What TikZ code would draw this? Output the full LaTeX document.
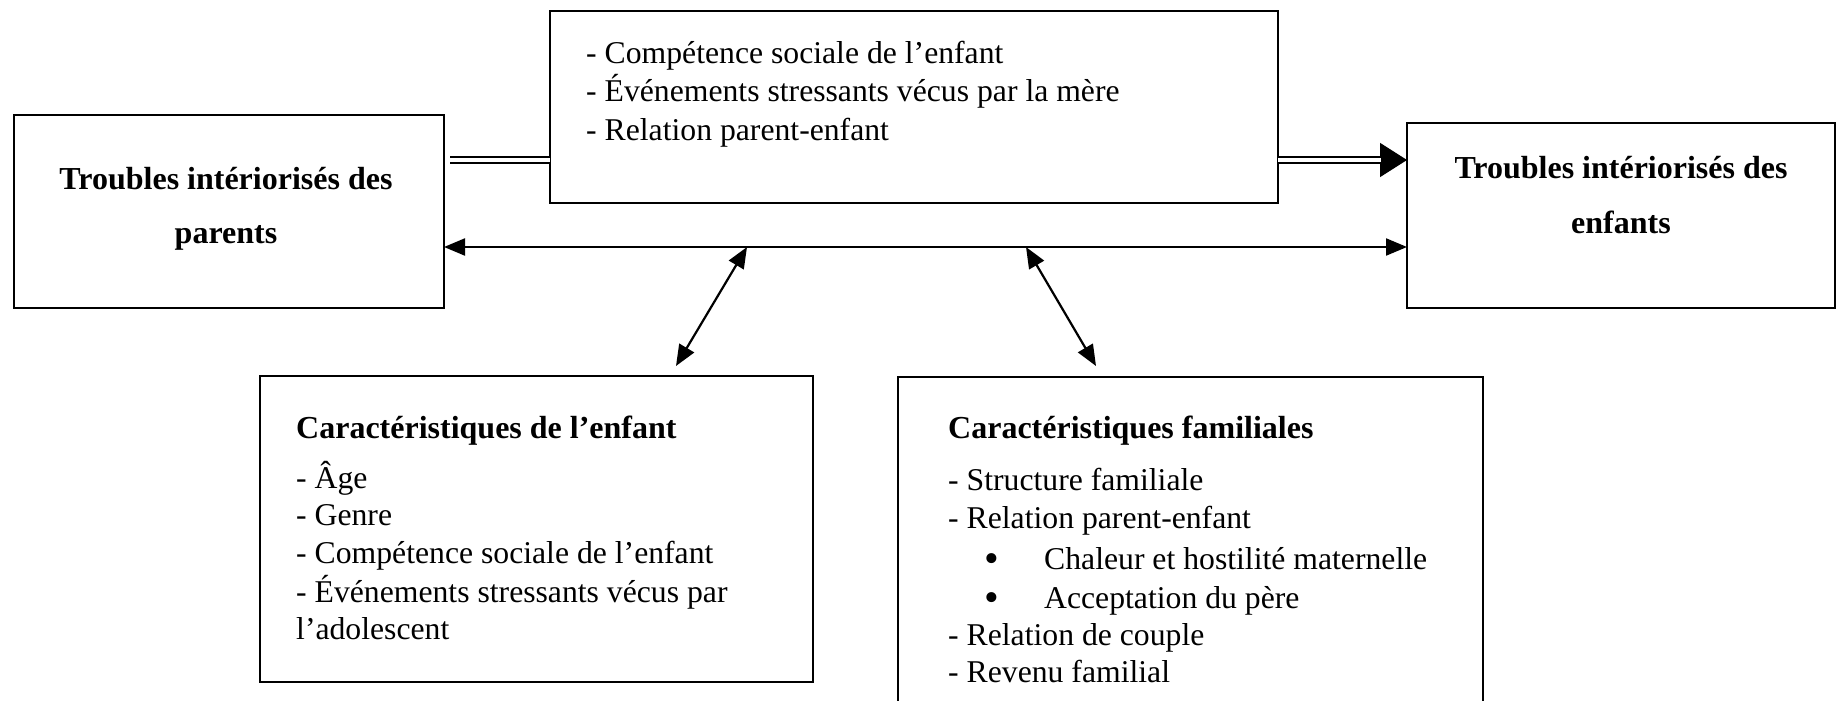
\documentclass[tikz,border=0pt]{standalone}
\usepackage{fontspec}
\setmainfont{Liberation Serif}
\usetikzlibrary{arrows.meta}
\begin{document}
\begin{tikzpicture}[x=1pt,y=-1pt,
  box/.style={draw, line width=2.2pt, inner sep=0pt, outer sep=0pt, anchor=north west},
  txt/.style={inner sep=0pt, anchor=base west, font=\fontsize{31.7}{38}\selectfont},
  ctxt/.style={txt, anchor=base},
  bul/.style={inner sep=0pt, anchor=base, text height=18pt, text depth=0pt, font=\fontsize{42}{42}\selectfont},
  hd/.style={txt, font=\fontsize{32}{38}\selectfont\bfseries},
  chd/.style={hd, anchor=base},
  link/.style={line width=2.2pt, {Triangle[length=21pt,width=17pt]}-{Triangle[length=21pt,width=17pt]}},
  dbl/.style={draw, line width=1.5pt, double=white, double distance=4.5pt}
]
\useasboundingbox (0,0) rectangle (1837,701);
\clip (0,0) rectangle (1837,701);

% boxes
\node[box, minimum width=728pt, minimum height=192pt] (cen) at (550,11) {};
\node[box, minimum width=430pt, minimum height=193pt] (par) at (14,115) {};
\node[box, minimum width=428pt, minimum height=185pt] (enf) at (1407,123) {};
\node[box, minimum width=553pt, minimum height=306pt] (chi) at (260,376) {};
\node[box, minimum width=585pt, minimum height=400pt] (fam) at (898,377) {};

% texts: centre box
\node[txt] (c1) at (586,64) {- Compétence sociale de l’enfant};
\node[txt] (c2) at (586,101) {- Événements stressants vécus par la mère};
\node[txt] (c3) at (586,140) {- Relation parent-enfant};

% parents
\node[chd] (p1) at (226,189) {Troubles intériorisés des};
\node[chd] (p2) at (226,243) {parents};

% enfants
\node[chd] (e1) at (1621,178) {Troubles intériorisés des};
\node[chd] (e2) at (1621,233) {enfants};

% child characteristics
\node[hd] (h1) at (296,438) {Caractéristiques de l’enfant};
\node[txt] (k1) at (296,488) {- Âge};
\node[txt] (k2) at (296,525) {- Genre};
\node[txt] (k3) at (296,563) {- Compétence sociale de l’enfant};
\node[txt] (k4) at (296,602) {- Événements stressants vécus par};
\node[txt] (k5) at (296,639) {l’adolescent};

% family characteristics
\node[hd] (h2) at (948,438) {Caractéristiques familiales};
\node[txt] (f1) at (948,490) {- Structure familiale};
\node[txt] (f2) at (948,528) {- Relation parent-enfant};
\node[bul] (b1) at (992,572) {•};
\node[txt] (f3) at (1044,569) {Chaleur et hostilité maternelle};
\node[bul] (b2) at (992,611) {•};
\node[txt] (f4) at (1044,608) {Acceptation du père};
\node[txt] (f5) at (948,645) {- Relation de couple};
\node[txt] (f6) at (948,682) {- Revenu familial};

% connectors
\coordinate (dl) at (0,160);
\coordinate (hl) at (0,247);
\draw[dbl] ([xshift=6pt]par.east |- dl) -- (cen.west |- dl);
\draw[line width=1.5pt, -{Triangle[length=27pt,width=34pt]}] (cen.east |- dl) -- (enf.west |- dl);
\draw[dbl] (cen.east |- dl) -- ([xshift=-26pt]enf.west |- dl);
\draw[link] (par.east |- hl) -- (enf.west |- hl);

\coordinate (d1a) at (747,247);
\coordinate (d1b) at (676,366);
\coordinate (d2a) at (1026,247);
\coordinate (d2b) at (1096,366);
\draw[link] (d1a) -- (d1b);
\draw[link] (d2a) -- (d2b);
\end{tikzpicture}
\end{document}
